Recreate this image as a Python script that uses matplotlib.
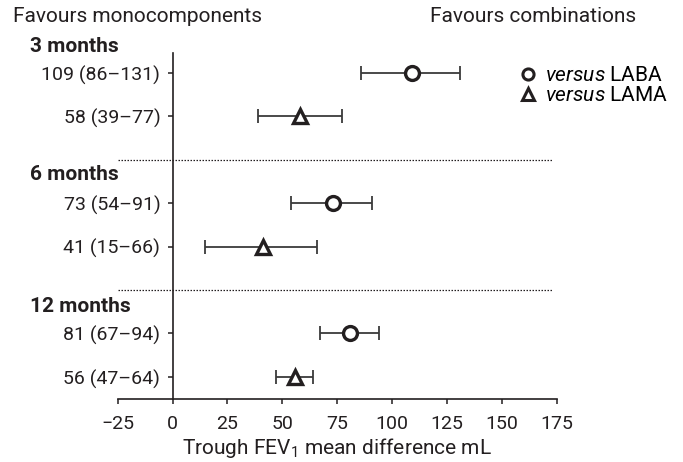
import matplotlib
matplotlib.use("Agg")
from matplotlib import pyplot as plt
from matplotlib.lines import Line2D

plt.rcParams['font.family'] = ['Roboto', 'DejaVu Sans']
plt.rcParams['mathtext.fontset'] = 'custom'
plt.rcParams['mathtext.rm'] = 'Roboto'
plt.rcParams['mathtext.it'] = 'Roboto:italic'

# data
groups = ["3 months", "6 months", "12 months"]
laba_mean = [109, 73, 81]
laba_lo = [86, 54, 67]
laba_hi = [131, 91, 94]
lama_mean = [58, 41, 56]
lama_lo = [39, 15, 47]
lama_hi = [77, 66, 64]

laba_y = [0, 3, 6]
lama_y = [1, 4, 7]
sep_y = [2, 5]
group_y = [-0.6, 2.35, 5.39]

txt = "#231f20"

fig = plt.figure(figsize=(6.83, 4.62), dpi=100)
ax = fig.add_axes([0.1723, 0.1364, 0.6428, 0.7489])

ebkw = dict(fmt="none", ecolor="#3a3a3a", elinewidth=1.3, capsize=4.7, capthick=1.3)
ax.errorbar(laba_mean, laba_y,
            xerr=[[m - l for m, l in zip(laba_mean, laba_lo)], [h - m for m, h in zip(laba_mean, laba_hi)]],
            **ebkw)
ax.errorbar(lama_mean, lama_y,
            xerr=[[m - l for m, l in zip(lama_mean, lama_lo)], [h - m for m, h in zip(lama_mean, lama_hi)]],
            **ebkw)
ax.plot(laba_mean, laba_y, "o", ms=10, mfc="white", mec=txt, mew=2.4, zorder=3)
ax.plot(lama_mean, lama_y, "^", ms=10, mfc="white", mec=txt, mew=2.4, zorder=3)

for y in sep_y:
    ax.plot([-25, 173], [y, y], ls=(0, (1.2, 1.2)), color=txt, lw=0.9, clip_on=False)

ax.set_xlim(-25, 175)
ax.set_ylim(7.51, -0.46)
ax.spines['top'].set_visible(False)
ax.spines['right'].set_visible(False)
ax.spines['left'].set_position(('data', 0))
ax.spines['left'].set_linewidth(1.2)
ax.spines['bottom'].set_linewidth(1.2)
ax.spines['left'].set_color(txt)
ax.spines['bottom'].set_color(txt)

ylabels = []
ypos = []
for i in range(3):
    ypos += [laba_y[i], lama_y[i]]
    ylabels += ["%d (%d\u2013%d)" % (laba_mean[i], laba_lo[i], laba_hi[i]),
                "%d (%d\u2013%d)" % (lama_mean[i], lama_lo[i], lama_hi[i])]
ax.set_yticks(ypos)
ax.set_yticklabels(ylabels, fontsize=14, color=txt)
ax.set_xticks(range(-25, 176, 25))
ax.set_xticklabels(["\u221225"] + [str(v) for v in range(0, 176, 25)], fontsize=14, color=txt)
ax.tick_params(axis='both', length=3.8, width=1.1, color=txt)
ax.tick_params(axis='x', pad=8)
ax.tick_params(axis='y', pad=5)
ax.set_xlabel("Trough FEV$_1$ mean difference mL", fontsize=15, color=txt, labelpad=2)

for g, y in zip(groups, group_y):
    ax.text(-65, y, g, fontsize=15, fontweight="bold", ha="left", va="center", color=txt)

fig.text(13 / 683, 1 - 17 / 462, "Favours monocomponents", fontsize=15, ha="left", va="center", color=txt)
fig.text(533 / 683, 1 - 17 / 462, "Favours combinations", fontsize=15, ha="center", va="center", color=txt)

handles = [Line2D([], [], ls="none", marker="o", ms=8, mfc="white", mec=txt, mew=2.2),
           Line2D([], [], ls="none", marker="^", ms=8, mfc="white", mec=txt, mew=2.2)]
ax.legend(handles, ["$\\it{versus}$ LABA", "$\\it{versus}$ LAMA"], loc="upper left",
          bbox_to_anchor=(518 / 683, 1 - 66 / 462), bbox_transform=fig.transFigure,
          frameon=False, fontsize=15, handletextpad=0.3, handlelength=1.0,
          labelspacing=0.05, borderaxespad=0, borderpad=0)

fig.savefig("out.png", dpi=100)
